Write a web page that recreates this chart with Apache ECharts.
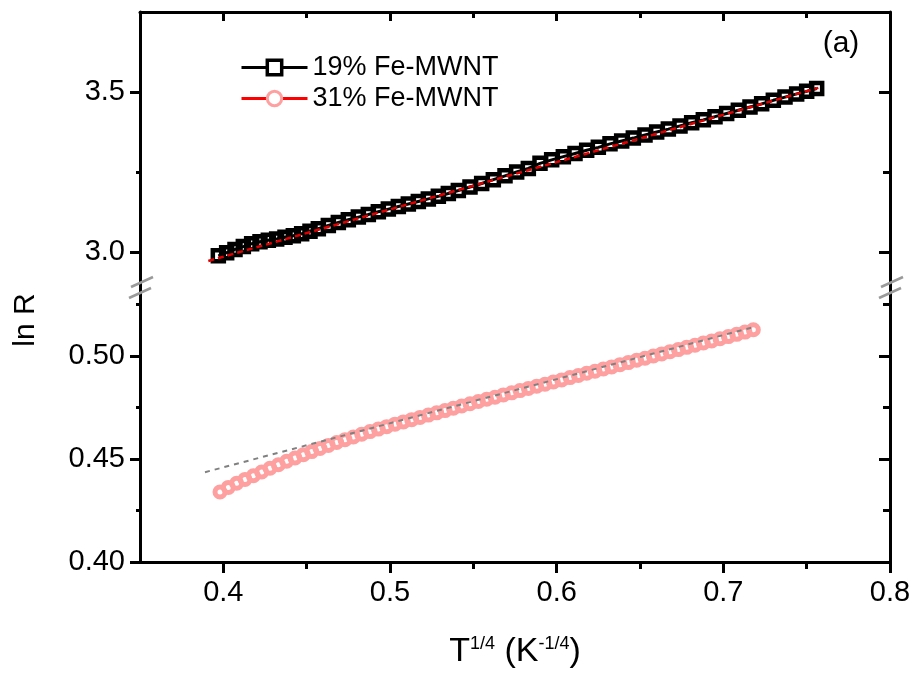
<!DOCTYPE html>
<html>
<head>
<meta charset="utf-8">
<script src="https://cdn.jsdelivr.net/npm/echarts@6/dist/echarts.min.js"></script>
<style>html,body{margin:0;padding:0;background:#fff;}#c{width:913px;height:679px;}</style>
</head>
<body>
<div id="c"></div>
<script>
// ---- data ----
const xMajorTicks = [0.4, 0.5, 0.6, 0.7, 0.8];
const xMinorTicks = [0.45, 0.55, 0.65, 0.75];
const upperMajorTicks = [3.0, 3.5];
const upperMinorTicks = [3.25];
const lowerMajorTicks = [0.40, 0.45, 0.50];
const lowerMinorTicks = [0.425, 0.475, 0.525];
const seriesNames = ['19% Fe-MWNT', '31% Fe-MWNT'];

const fe19X = [0.397,0.402,0.407,0.412,0.417,0.422,0.427,0.432,0.437,0.442,0.447,0.452,0.457,0.463,0.469,0.475,0.481,0.487,0.493,0.499,0.505,0.511,0.517,0.523,0.529,0.535,0.541,0.548,0.555,0.562,0.569,0.576,0.583,0.590,0.597,0.604,0.611,0.618,0.625,0.632,0.639,0.646,0.653,0.660,0.667,0.674,0.681,0.688,0.695,0.702,0.709,0.716,0.723,0.730,0.737,0.744,0.750,0.756];
const fe19Y = [2.988,2.998,3.008,3.017,3.026,3.032,3.037,3.041,3.046,3.051,3.057,3.065,3.073,3.083,3.092,3.101,3.109,3.117,3.126,3.134,3.142,3.150,3.158,3.166,3.174,3.183,3.192,3.203,3.214,3.226,3.238,3.250,3.261,3.277,3.288,3.298,3.308,3.318,3.327,3.338,3.347,3.356,3.366,3.375,3.384,3.394,3.404,3.413,3.423,3.433,3.443,3.453,3.463,3.474,3.484,3.494,3.502,3.511];

const fe31X = [0.398,0.403,0.408,0.413,0.418,0.423,0.428,0.433,0.438,0.443,0.448,0.453,0.458,0.463,0.468,0.473,0.478,0.483,0.488,0.493,0.498,0.503,0.508,0.513,0.518,0.523,0.528,0.533,0.538,0.543,0.548,0.553,0.558,0.563,0.568,0.573,0.578,0.583,0.588,0.593,0.598,0.603,0.608,0.613,0.618,0.623,0.628,0.633,0.638,0.643,0.648,0.653,0.658,0.663,0.668,0.673,0.678,0.683,0.688,0.693,0.698,0.703,0.708,0.713,0.718];
const fe31Y = [0.4340,0.4362,0.4382,0.4401,0.4419,0.4437,0.4455,0.4472,0.4489,0.4505,0.4521,0.4536,0.4551,0.4566,0.4580,0.4594,0.4607,0.4620,0.4633,0.4645,0.4657,0.4669,0.4680,0.4691,0.4702,0.4713,0.4724,0.4735,0.4746,0.4757,0.4768,0.4779,0.4790,0.4800,0.4811,0.4821,0.4832,0.4842,0.4853,0.4863,0.4874,0.4884,0.4895,0.4905,0.4916,0.4926,0.4937,0.4947,0.4958,0.4968,0.4979,0.4989,0.5000,0.5010,0.5021,0.5031,0.5042,0.5052,0.5063,0.5073,0.5084,0.5094,0.5105,0.5116,0.5127];

const fit19X = [0.391, 0.757];
const fit19Y = [2.972, 3.513];
const fit31X = [0.389, 0.718];
const fit31Y = [0.4436, 0.5140];

// ---- layout ----
const FONT = 'Liberation Sans, Arial, sans-serif';
const L = 140, R = 890, TOP = 12, BREAK = 288, BOT = 562;
const W = 913;

const zip = (xs, ys) => xs.map((x, i) => [x, ys[i]]);

function axis(o) {
  const base = {
    type: 'value',
    splitLine: { show: false },
    axisLine: { show: false, onZero: false, lineStyle: { color: '#000', width: 3 } },
    axisTick: { show: true, lineStyle: { color: '#000', width: 3 } },
    axisLabel: { show: false },
    axisPointer: { show: false }
  };
  const r = Object.assign({}, base, o);
  r.axisLine = Object.assign({}, base.axisLine, o.axisLine || {});
  r.axisTick = Object.assign({}, base.axisTick, o.axisTick || {});
  r.axisLabel = Object.assign({}, base.axisLabel, o.axisLabel || {});
  return r;
}

const labelStyle = { show: true, color: '#000', fontFamily: FONT, fontSize: 29 };

const xAxes = [
  axis({ gridIndex: 0, position: 'top', min: 0.35, max: 0.8,
    axisLine: { show: true }, axisTick: { inside: true, length: 9, customValues: [0.4, 0.5, 0.6, 0.7] } }),
  axis({ gridIndex: 0, position: 'top', min: 0.35, max: 0.8,
    axisTick: { inside: true, length: 6, customValues: xMinorTicks } }),
  axis({ gridIndex: 1, position: 'bottom', min: 0.35, max: 0.8,
    axisLine: { show: true }, axisTick: { inside: false, length: 11, customValues: xMajorTicks },
    axisLabel: Object.assign({}, labelStyle, { customValues: xMajorTicks, margin: 16, formatter: v => (+v).toFixed(1) }),
    name: '{m|T}{s|1/4}{m| (K}{s|-1/4}{m|)}',
    nameLocation: 'middle', nameGap: 69,
    nameTextStyle: { rich: {
      m: { fontSize: 34, fontFamily: FONT, color: '#000', lineHeight: 38, verticalAlign: 'bottom' },
      s: { fontSize: 18, fontFamily: FONT, color: '#000', lineHeight: 20, verticalAlign: 'top', padding: [4, 0, 0, 0] }
    } } }),
  axis({ gridIndex: 1, position: 'bottom', min: 0.35, max: 0.8,
    axisTick: { inside: false, length: 7, customValues: xMinorTicks } })
];

const yUp = { min: 2.8875, max: 3.75 };
const yLow = { min: 0.40, max: 0.533 };
const yAxes = [
  axis(Object.assign({ gridIndex: 0, position: 'left', axisLine: { show: true },
    axisTick: { inside: false, length: 10, customValues: upperMajorTicks },
    axisLabel: Object.assign({}, labelStyle, { customValues: upperMajorTicks, margin: 15, formatter: v => (+v).toFixed(1) }) }, yUp)),
  axis(Object.assign({ gridIndex: 0, position: 'left', axisTick: { inside: false, length: 4, customValues: upperMinorTicks } }, yUp)),
  axis(Object.assign({ gridIndex: 0, position: 'right', axisLine: { show: true },
    axisTick: { inside: true, length: 11, customValues: upperMajorTicks } }, yUp)),
  axis(Object.assign({ gridIndex: 0, position: 'right', axisTick: { inside: true, length: 7, customValues: upperMinorTicks } }, yUp)),
  axis(Object.assign({ gridIndex: 1, position: 'left', axisLine: { show: true },
    axisTick: { inside: false, length: 10, customValues: lowerMajorTicks },
    axisLabel: Object.assign({}, labelStyle, { customValues: lowerMajorTicks, margin: 15, formatter: v => (+v).toFixed(2) }) }, yLow)),
  axis(Object.assign({ gridIndex: 1, position: 'left', axisTick: { inside: false, length: 4, customValues: lowerMinorTicks } }, yLow)),
  axis(Object.assign({ gridIndex: 1, position: 'right', axisLine: { show: true },
    axisTick: { inside: true, length: 11, customValues: [0.45, 0.50] } }, yLow)),
  axis(Object.assign({ gridIndex: 1, position: 'right', axisTick: { inside: true, length: 7, customValues: lowerMinorTicks } }, yLow))
];

function breakMarks(x) {
  const mk = (cx, cy) => ({
    type: 'line', silent: true, z: 100,
    shape: { x1: cx - 11, y1: cy + 5, x2: cx + 11, y2: cy - 5 },
    style: { stroke: '#9a9a9a', lineWidth: 2.5 }
  });
  return [mk(x + 2, BREAK - 6), mk(x, BREAK + 5)];
}

const chart = echarts.init(document.getElementById('c'), null, { renderer: 'canvas' });
chart.setOption({
  animation: false,
  backgroundColor: '#fff',
  grid: [
    { left: L, right: W - R, top: TOP, height: BREAK - TOP, containLabel: false, outerBoundsMode: 'none' },
    { left: L, right: W - R, top: BREAK, height: BOT - BREAK, containLabel: false, outerBoundsMode: 'none' }
  ],
  xAxis: xAxes,
  yAxis: yAxes,
  legend: {
    left: 240, top: 54, orient: 'vertical', padding: 0,
    itemWidth: 66, itemHeight: 18, itemGap: 4,
    textStyle: { fontFamily: FONT, fontSize: 27, color: '#000' },
    data: [
      { name: seriesNames[0], itemStyle: { color: '#fff', borderWidth: 3.5 }, lineStyle: { color: '#000', width: 3 } },
      { name: seriesNames[1], itemStyle: { color: '#fff', borderWidth: 3 }, lineStyle: { color: '#ff0000', width: 3, opacity: 1 } }
    ]
  },
  graphic: [
    { type: 'text', x: 26, y: 320, rotation: Math.PI / 2,
      style: { text: 'ln R', fontFamily: FONT, fontSize: 30, fill: '#000', align: 'center', verticalAlign: 'middle' } },
    { type: 'text', x: 841, y: 44,
      style: { text: '(a)', fontFamily: FONT, fontSize: 30, fill: '#000', align: 'center', verticalAlign: 'middle' } }
  ].concat(breakMarks(L), breakMarks(R)),
  series: [
    { name: seriesNames[0], type: 'line', xAxisIndex: 0, yAxisIndex: 0,
      data: zip(fe19X, fe19Y), symbol: 'rect', symbolSize: 11,
      itemStyle: { color: 'rgba(255,255,255,0)', borderColor: '#000', borderWidth: 4.5 },
      lineStyle: { color: '#000', width: 3 }, z: 2 },
    { name: seriesNames[1], type: 'line', xAxisIndex: 2, yAxisIndex: 4,
      data: zip(fe31X, fe31Y), symbol: 'circle', symbolSize: 10,
      itemStyle: { color: 'rgba(255,255,255,0)', borderColor: '#ffa0a0', borderWidth: 5 },
      lineStyle: { color: '#ff0000', width: 0, opacity: 0 }, z: 2 },
    { name: 'fit19', type: 'line', xAxisIndex: 0, yAxisIndex: 0,
      data: zip(fit19X, fit19Y), symbol: 'none',
      lineStyle: { color: '#e00000', width: 2.5, type: [6, 4] }, z: 5 },
    { name: 'fit31', type: 'line', xAxisIndex: 2, yAxisIndex: 4,
      data: zip(fit31X, fit31Y), symbol: 'none',
      lineStyle: { color: '#808080', width: 2, type: [5, 5] }, z: 5 }
  ]
});
</script>
</body>
</html>
